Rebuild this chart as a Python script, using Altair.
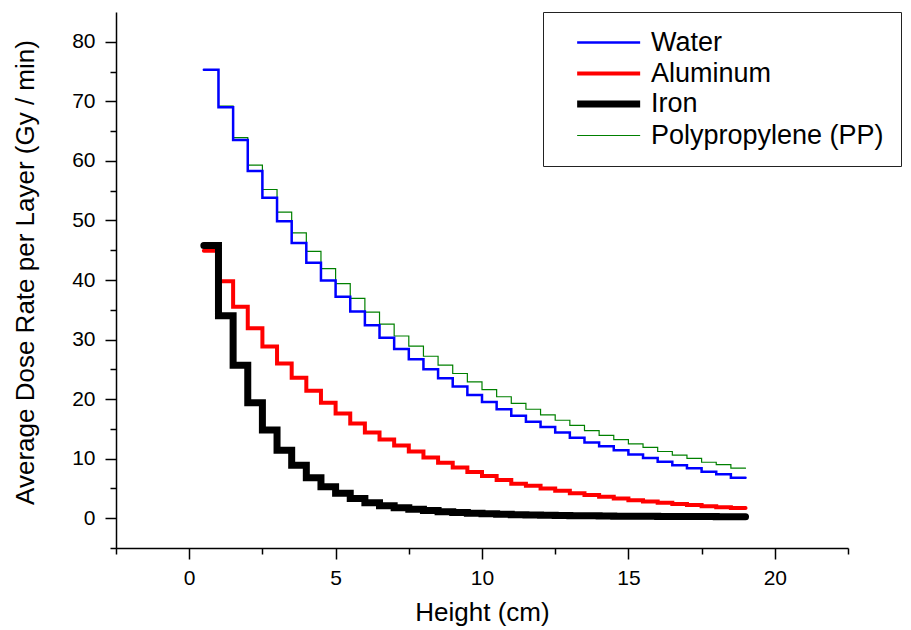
import altair as alt
import pandas as pd

# layer start heights (cm); each layer is 0.5 cm thick, last layer ends at 19 cm
layer_start = [0.5, 1.0, 1.5, 2.0, 2.5, 3.0, 3.5, 4.0, 4.5, 5.0, 5.5, 6.0, 6.5,
               7.0, 7.5, 8.0, 8.5, 9.0, 9.5, 10.0, 10.5, 11.0, 11.5, 12.0, 12.5,
               13.0, 13.5, 14.0, 14.5, 15.0, 15.5, 16.0, 16.5, 17.0, 17.5, 18.0, 18.5]
top_height = 19.0

water = [75.3, 69.0, 63.5, 58.3, 53.8, 49.85, 46.2, 42.9, 39.9, 37.2, 34.7, 32.4, 30.3,
         28.4, 26.7, 25.0, 23.5, 22.1, 20.7, 19.5, 18.3, 17.2, 16.2, 15.3, 14.4,
         13.5, 12.7, 12.1, 11.4, 10.7, 10.1, 9.5, 8.9, 8.4, 7.8, 7.4, 6.8]
aluminum = [44.9, 39.8, 35.5, 31.9, 28.85, 26.0, 23.6, 21.4, 19.4, 17.6, 15.9, 14.4, 13.2,
            12.2, 11.2, 10.2, 9.3, 8.5, 7.75, 7.1, 6.4, 5.8, 5.45, 5.0, 4.6,
            4.2, 3.9, 3.6, 3.3, 3.0, 2.8, 2.6, 2.4, 2.2, 2.0, 1.85, 1.7]
iron = [45.8, 34.0, 25.7, 19.4, 14.8, 11.4, 8.9, 6.8, 5.3, 4.2, 3.3, 2.6, 2.1,
        1.75, 1.5, 1.3, 1.1, 0.95, 0.85, 0.75, 0.68, 0.6, 0.55, 0.5, 0.46,
        0.42, 0.4, 0.37, 0.35, 0.33, 0.32, 0.3, 0.29, 0.28, 0.27, 0.26, 0.25]
polypropylene = [75.3, 69.2, 63.9, 59.3, 55.2, 51.4, 47.9, 44.8, 41.9, 39.4, 36.9, 34.6, 32.6,
                 30.6, 28.9, 27.2, 25.7, 24.3, 22.9, 21.6, 20.4, 19.3, 18.3, 17.35, 16.45,
                 15.6, 14.7, 13.9, 13.2, 12.5, 11.9, 11.2, 10.6, 10.05, 9.4, 9.0, 8.4]

materials = ["Water", "Aluminum", "Iron", "Polypropylene (PP)"]
series = [water, aluminum, iron, polypropylene]
colors = ["#0000ff", "#ff0000", "#000000", "#008000"]
widths = [2.5, 4, 7, 1.2]
draw_order = [2, 1, 3, 0]  # green drawn first, then blue / red / black above it

x_ticks = [-2.5, 0, 2.5, 5, 7.5, 10, 12.5, 15, 17.5, 20, 22.5]
y_ticks = [-5, 0, 5, 10, 15, 20, 25, 30, 35, 40, 45, 50, 55, 60, 65, 70, 75, 80]

rows = []
for idx in [3, 0, 1, 2]:
    name, vals = materials[idx], series[idx]
    for h, v in zip(layer_start, vals):
        rows.append({"material": name, "height": h, "dose": v})
    rows.append({"material": name, "height": top_height, "dose": vals[-1]})
df = pd.DataFrame(rows)

FONT = "Liberation Sans"

x_axis = alt.Axis(
    values=x_ticks, grid=False, title="Height (cm)",
    labelExpr="datum.value % 5 === 0 ? format(datum.value, 'd') : ''",
    tickSize={"condition": {"test": "datum.value % 5 === 0", "value": 11}, "value": 6},
    labelPadding=8, labelFlush=False, labelOverlap=False,
    titleY=64, titleBaseline="middle",
)
y_axis = alt.Axis(
    values=y_ticks, grid=False, title="Average Dose Rate per Layer (Gy / min)",
    labelExpr="(datum.value % 10 === 0 && datum.value >= 0) ? format(datum.value, 'd') : ''",
    tickSize={"condition": {"test": "datum.value % 10 === 0", "value": 11}, "value": 6},
    labelPadding=10, labelFlush=False, labelOverlap=False,
    titleX=-91, titleY=260, titleBaseline="middle", titleAlign="center",
)

legend = alt.Legend(
    title=None, orient="none", legendX=427, legendY=0, direction="vertical",
    strokeColor="#222222", fillColor="white", padding=17,
    symbolType="M0.3,0H6.3", symbolSize=441,
    labelFont=FONT, labelFontSize=27, labelColor="black", labelOffset=63,
    labelLimit=500, rowPadding=3,
)

chart = alt.Chart(df).mark_line(interpolate="step-after", strokeCap="round").encode(
    x=alt.X("height:Q", scale=alt.Scale(domain=[-2.5, 22.5], nice=False, zero=False), axis=x_axis),
    y=alt.Y("dose:Q", scale=alt.Scale(domain=[-5, 85], nice=False, zero=False), axis=y_axis),
    color=alt.Color("material:N", scale=alt.Scale(domain=materials, range=colors), legend=legend),
    strokeWidth=alt.StrokeWidth("material:N",
                                scale=alt.Scale(type="ordinal", domain=materials, range=widths),
                                legend=legend),
).properties(
    width=732, height=536,
    autosize=alt.AutoSizeParams(type="none"),
    padding={"left": 108, "top": 4, "right": 55, "bottom": 82},
).configure_axis(
    labelFont=FONT, titleFont=FONT, labelFontSize=21, titleFontSize=26,
    titleFontWeight="normal", labelColor="black", titleColor="black",
    domainColor="black", tickColor="black", domainWidth=1.5, tickWidth=1.5,
).configure_view(stroke="transparent")

chart.save("out.html", embed_options={"renderer": "svg", "actions": False})
